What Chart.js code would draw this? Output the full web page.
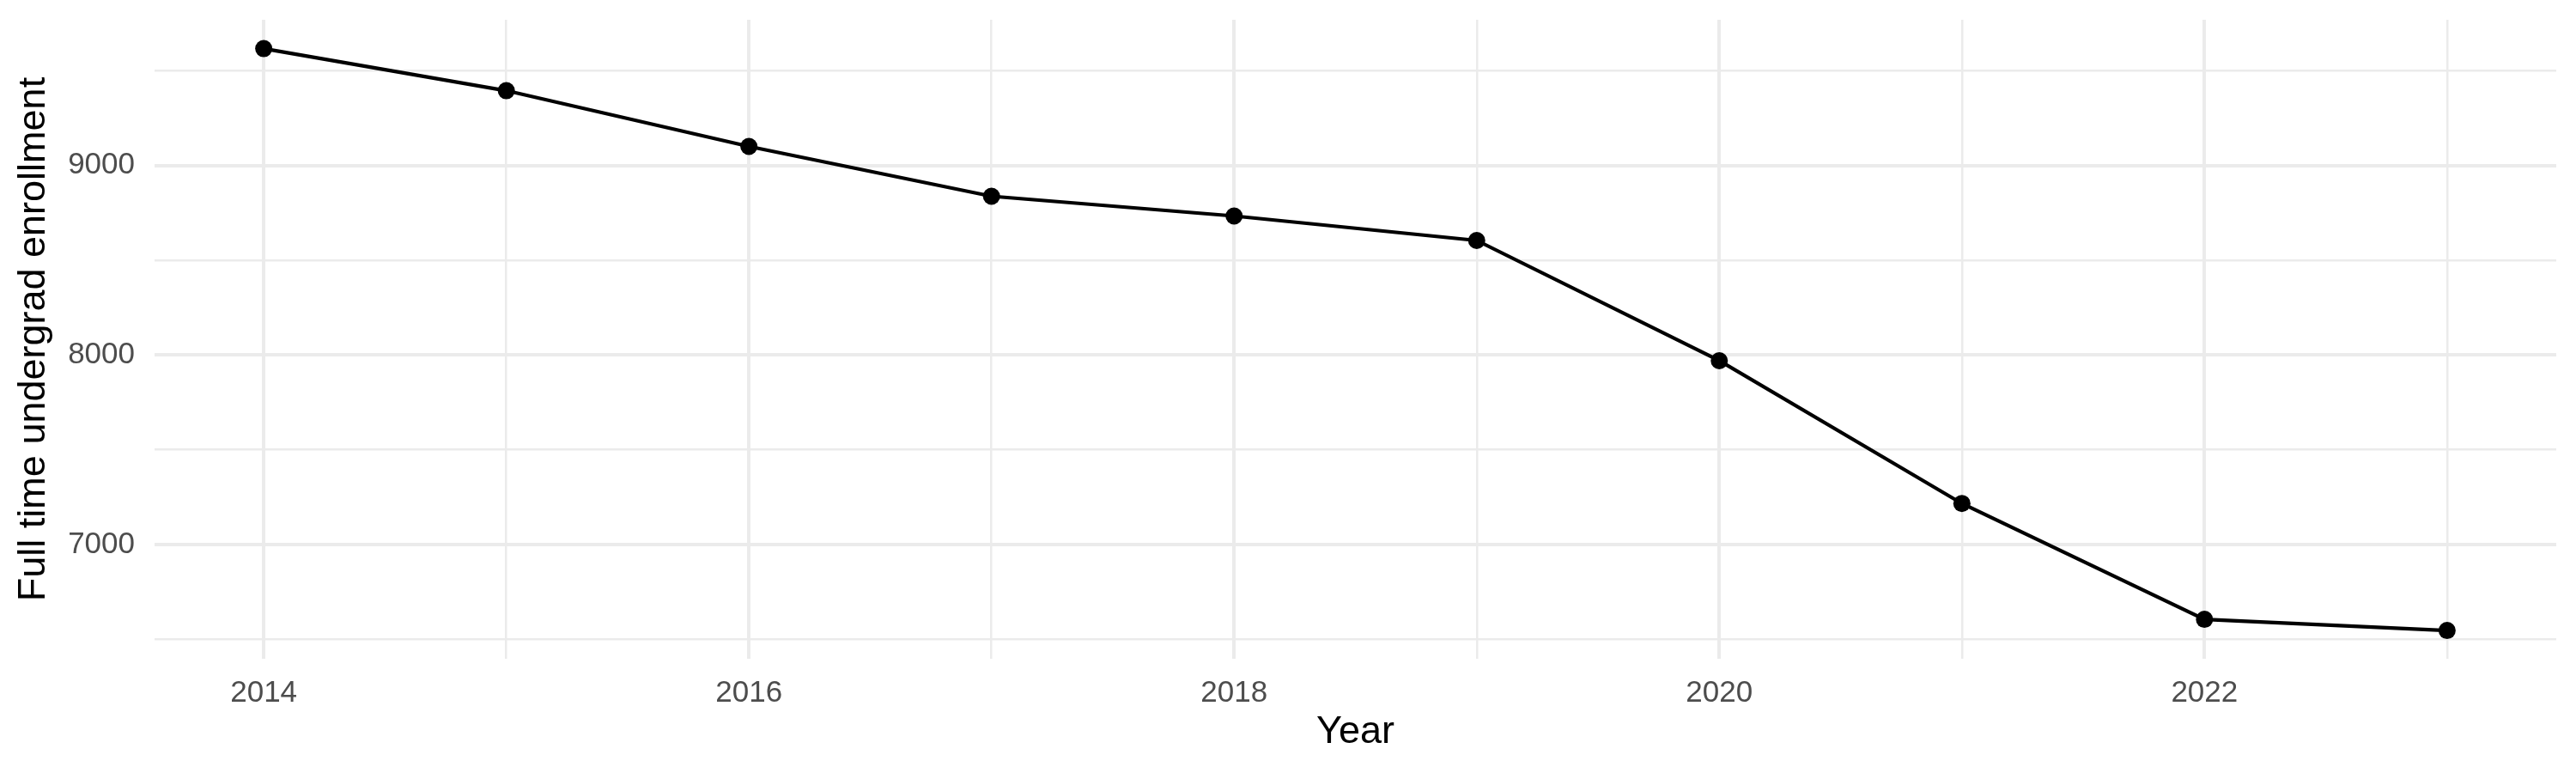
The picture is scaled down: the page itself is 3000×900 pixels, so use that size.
<!DOCTYPE html>
<html>
<head>
<meta charset="utf-8">
<script src="https://cdn.jsdelivr.net/npm/chart.js@4"></script>
<style>
  body { margin: 0; background: #ffffff; }
  #wrap { width: 3000px; height: 900px; position: relative; }
</style>
</head>
<body>
<div id="wrap"><canvas id="enrollment"></canvas></div>
<script>
// values
const years = [2014, 2015, 2016, 2017, 2018, 2019, 2020, 2021, 2022, 2023];
const enrollment = [9616, 9394, 9100, 8837, 8733, 8604, 7970, 7217, 6606, 6547];
const xTicks = [2014, 2015, 2016, 2017, 2018, 2019, 2020, 2021, 2022, 2023];
const yTicks = [6500, 7000, 7500, 8000, 8500, 9000, 9500];

const gridColor = '#ebebeb';
const tickColor = '#4d4d4d';
const font = 'Liberation Sans, Arial, Helvetica, sans-serif';

const ctx = document.getElementById('enrollment').getContext('2d');
const enrollmentChart = new Chart(ctx, {
  type: 'line',
  data: {
    datasets: [
      {
        label: 'Full time undergrad enrollment',
        data: years.map((y, i) => ({ x: y, y: enrollment[i] })),
        borderColor: '#000000',
        backgroundColor: '#000000',
        borderWidth: 4.2,
        pointRadius: 10,
        pointBorderWidth: 0,
        tension: 0
      }
    ]
  },
  options: {
    responsive: true,
    maintainAspectRatio: false,
    animation: false,
    devicePixelRatio: 1,
    layout: { padding: { top: 23, right: 23, left: 0, bottom: 0 } },
    plugins: {
      legend: { display: false },
      tooltip: { enabled: false }
    },
    scales: {
      x: {
        type: 'linear',
        min: 2013.55,
        max: 2023.45,
        afterBuildTicks: axis => { axis.ticks = xTicks.map(v => ({ value: v })); },
        afterFit: axis => {
          axis.height = 133;
          axis.paddingLeft = 0;
          axis.paddingRight = 0;
        },
        border: { display: false },
        grid: {
          color: gridColor,
          drawTicks: false,
          lineWidth: c => (c.tick && c.tick.value % 2 === 0 ? 4 : 2.5)
        },
        ticks: {
          padding: 19,
          color: tickColor,
          maxRotation: 0,
          autoSkip: false,
          font: { family: font, size: 35 },
          callback: v => (v % 2 === 0 ? String(v) : '')
        },
        title: {
          display: true,
          text: 'Year',
          color: '#000000',
          font: { family: font, size: 45, lineHeight: 1 },
          padding: { top: 0, bottom: 25 }
        }
      },
      y: {
        type: 'linear',
        min: 6398,
        max: 9768,
        afterBuildTicks: axis => { axis.ticks = yTicks.map(v => ({ value: v })); },
        afterFit: axis => {
          axis.width = 180;
          axis.paddingTop = 0;
          axis.paddingBottom = 0;
        },
        border: { display: false },
        grid: {
          color: gridColor,
          drawTicks: false,
          lineWidth: c => (c.tick && c.tick.value % 1000 === 0 ? 4 : 2.5)
        },
        ticks: {
          padding: 23,
          color: tickColor,
          autoSkip: false,
          font: { family: font, size: 35 },
          callback: v => (v % 1000 === 0 ? String(v) : '')
        },
        title: {
          display: true,
          text: 'Full time undergrad enrollment',
          color: '#000000',
          font: { family: font, size: 45, lineHeight: 1 },
          padding: { top: 17, bottom: 0 }
        }
      }
    }
  }
});
</script>
</body>
</html>
